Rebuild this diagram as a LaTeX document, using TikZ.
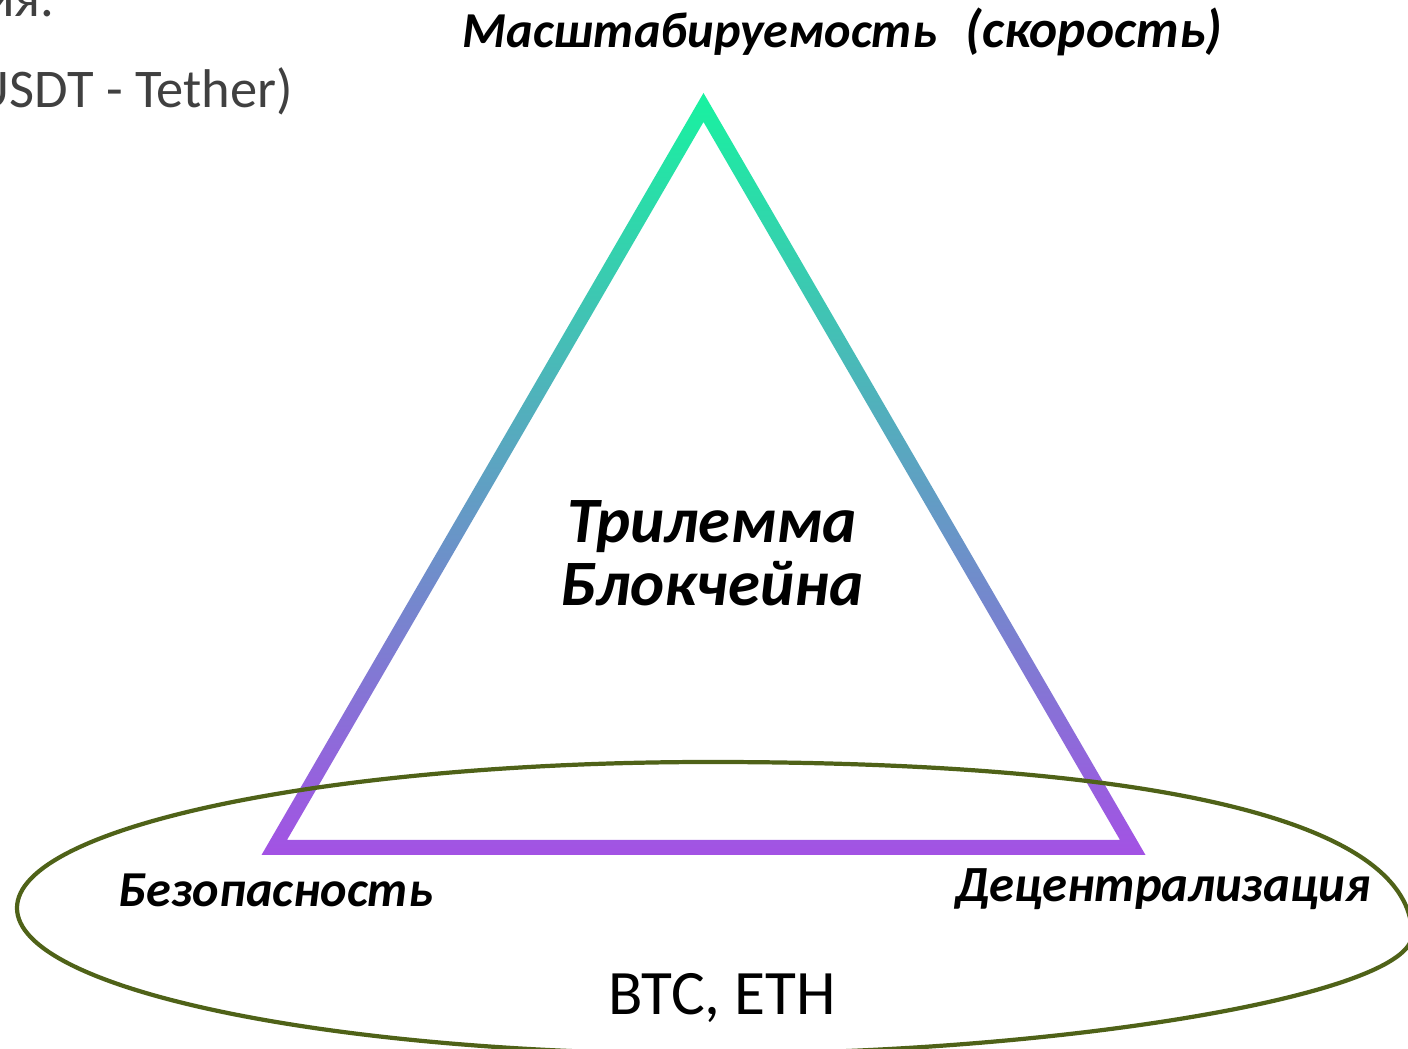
\documentclass[tikz,border=0pt]{standalone}
\usepackage{fontspec}
\setmainfont{Carlito}
\usepackage{tikz}
\usetikzlibrary{positioning}
\definecolor{trigreen}{RGB}{24,242,160}
\definecolor{tripurple}{RGB}{163,82,228}
\definecolor{ovalgreen}{RGB}{79,98,24}
\definecolor{slidegray}{RGB}{64,64,64}

\begin{document}
\begin{tikzpicture}[x=0.01cm, y=-0.01cm]

	\tikzset{
		lbl/.style = {font=\bfseries\itshape, inner sep=0pt, anchor=base west},
		slide/.style = {font=\fontsize{15.5}{19}\selectfont, text=slidegray,
			inner sep=0pt, anchor=base east}
	}

	\useasboundingbox (0,0) rectangle (1408,1049);

	% text of the slide behind the picture
	\node[slide] (prev) at (55,17) {ия.};
	\node[slide] (usdt) at (294,108) {USDT - Tether)};

	% triangle, outer and inner corners
	\coordinate (top) at (703.5,93);
	\coordinate (left) at (261.5,855);
	\coordinate (right) at (1145.5,855);
	\coordinate (itop) at (703.5,122);
	\coordinate (ileft) at (287,840);
	\coordinate (iright) at (1120,840);

	\shade[top color=trigreen, bottom color=tripurple, even odd rule]
		(top) -- (right) -- (left) -- cycle
		(itop) -- (iright) -- (ileft) -- cycle;

	\draw[ovalgreen, line width=1.2pt]
		(17,908) .. controls (17,827) and (327,762) .. (710,762)
		.. controls (1166,762) and (1412,823) .. (1412,935)
		.. controls (1412,994.5) and (1061,1054) .. (710,1054)
		.. controls (327,1054) and (17,989) .. cycle;

	\node[lbl, font=\bfseries\itshape\fontsize{14.3}{17}\selectfont] (scal) at (462,48) {Масштабируемость};
	\node[lbl, font=\bfseries\itshape\fontsize{15.2}{18}\selectfont] (speed) at ([xshift=0.27cm]scal.base east) {(скорость)};

	\node[lbl, anchor=base, font=\bfseries\itshape\fontsize{18.4}{21}\selectfont] (tri) at (712,543) {Трилемма};
	\node[lbl, anchor=base, font=\bfseries\itshape\fontsize{18.4}{21}\selectfont] (chain) at ([yshift=-0.62cm]tri.base) {Блокчейна};

	\node[lbl, font=\bfseries\itshape\fontsize{14.3}{17}\selectfont] (sec) at (118,907) {Безопасность};
	\node[lbl, font=\bfseries\itshape\fontsize{14.4}{17}\selectfont] (dec) at (955,902) {Децентрализация};

	\node[inner sep=0pt, anchor=base west, font=\fontsize{18}{21}\selectfont] (coins) at (608,1015) {BTC, ETH};

\end{tikzpicture}
\end{document}
